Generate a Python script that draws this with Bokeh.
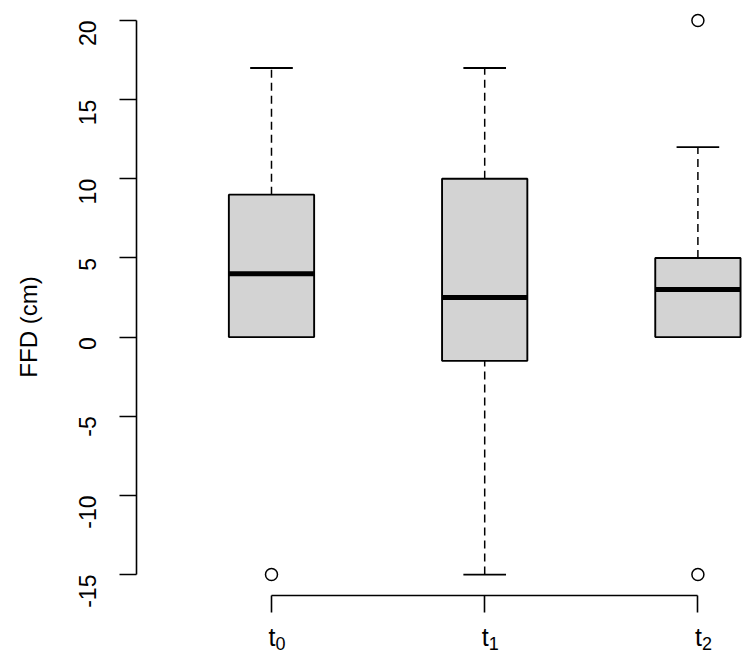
import math
from bokeh.plotting import figure
from bokeh.models import FixedTicker, Range1d, LabelSet, ColumnDataSource
from bokeh.core.properties import value
from bokeh.embed import file_html
from bokeh.resources import INLINE

# data
group_base = ["t", "t", "t"]
group_sub = ["0", "1", "2"]
pos = [1, 2, 3]
q1 = [0, -1.5, 0]
median = [4, 2.5, 3]
q3 = [9, 10, 5]
whisk_lo = [0, -15, 0]
whisk_hi = [17, 17, 12]
out_x = [1, 3, 3]
out_y = [-15, 20, -15]
y_ticks = [-15, -10, -5, 0, 5, 10, 15, 20]

FONT = "Liberation Sans"
half_box = 0.2
half_staple = 0.1

W, H = 742, 653
LEFT = 136
PX_PER_Y = 15.83
Y1 = 20 + 20 / PX_PER_Y          # value at top pixel row
Y0 = Y1 - H / PX_PER_Y           # value at bottom pixel row
X_AXIS_AT = Y1 - 595 / PX_PER_Y  # where the x axis line sits

p = figure(
    width=W, height=H,
    min_border_left=LEFT, min_border_right=0, min_border_top=0, min_border_bottom=0,
    x_range=Range1d(0.3668, 3.2092), y_range=Range1d(Y0, Y1),
    output_backend="svg", toolbar_location=None,
)
p.outline_line_color = None
p.grid.visible = False
p.background_fill_color = "white"
p.border_fill_color = "white"

# whiskers (dashed)
p.segment(x0=pos, y0=q3, x1=pos, y1=whisk_hi, line_color="black", line_width=1.5, line_dash="8 5")
p.segment(x0=pos, y0=whisk_lo, x1=pos, y1=q1, line_color="black", line_width=1.5, line_dash="8 5")
# staples
p.segment(x0=[x - half_staple for x in pos], y0=whisk_hi, x1=[x + half_staple for x in pos], y1=whisk_hi,
          line_color="black", line_width=1.8)
p.segment(x0=[x - half_staple for x in pos], y0=whisk_lo, x1=[x + half_staple for x in pos], y1=whisk_lo,
          line_color="black", line_width=1.8)
# boxes
p.quad(left=[x - half_box for x in pos], right=[x + half_box for x in pos], bottom=q1, top=q3,
       fill_color="#D3D3D3", line_color="black", line_width=1.9)
# medians
p.segment(x0=[x - half_box for x in pos], y0=median, x1=[x + half_box for x in pos], y1=median,
          line_color="black", line_width=5, line_cap="butt")
# outliers
p.scatter(x=out_x, y=out_y, marker="circle", size=12, fill_color=None, line_color="black", line_width=1.5)

# x axis, drawn inside the frame at a fixed location (labels drawn separately for subscripts)
xa = p.xaxis[0]
xa.fixed_location = X_AXIS_AT
xa.ticker = FixedTicker(ticks=pos)
xa.major_label_text_font_size = "0px"
xa.major_label_text_color = None
xa.bounds = (1, 3)
xa.minor_tick_line_color = None
xa.major_tick_out = 17
xa.major_tick_in = 0
xa.axis_line_width = 1.6
xa.major_tick_line_width = 1.6

lab_src = ColumnDataSource(dict(x=pos, y=[X_AXIS_AT] * len(pos), base=group_base, sub=group_sub))
p.add_layout(LabelSet(x="x", y="y", text="base", source=lab_src, x_offset=4, y_offset=-50,
                      text_align="right", text_baseline="alphabetic",
                      text_font=value(FONT), text_font_size=value("25px"), text_color="black"))
p.add_layout(LabelSet(x="x", y="y", text="sub", source=lab_src, x_offset=4, y_offset=-54,
                      text_align="left", text_baseline="alphabetic",
                      text_font=value(FONT), text_font_size=value("18px"), text_color="black"))

# y axis
ya = p.yaxis[0]
ya.ticker = FixedTicker(ticks=y_ticks)
ya.major_label_overrides = {t: str(t) for t in y_ticks}
ya.bounds = (-15, 20)
ya.minor_tick_line_color = None
ya.major_tick_out = 17
ya.major_tick_in = 0
ya.axis_line_width = 1.6
ya.major_tick_line_width = 1.6
ya.major_label_orientation = math.pi / 2
ya.major_label_text_font = FONT
ya.major_label_text_font_size = "23px"
ya.major_label_text_color = "black"
ya.major_label_standoff = 32
ya.axis_label = "FFD (cm)"
ya.axis_label_text_font = FONT
ya.axis_label_text_font_size = "24px"
ya.axis_label_text_font_style = "normal"
ya.axis_label_text_color = "black"
ya.axis_label_standoff = 26

open("out.html", "w").write(file_html(p, INLINE))
